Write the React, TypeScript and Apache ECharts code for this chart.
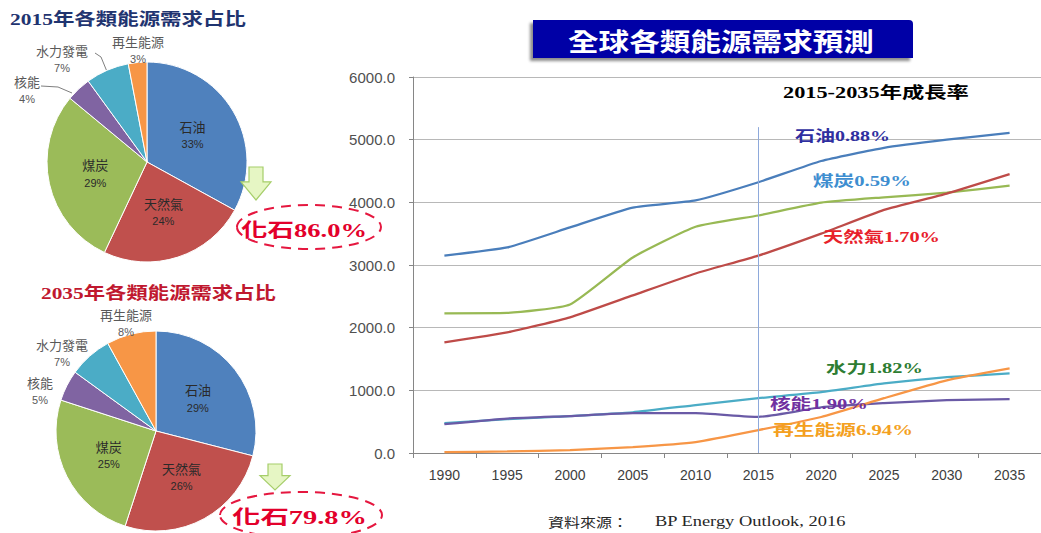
import React, { useEffect, useRef } from 'react';
import * as echarts from 'echarts';

// ---------- data ----------
const years = ['1990', '1995', '2000', '2005', '2010', '2015', '2020', '2025', '2030', '2035'];
const oil = [3150, 3280, 3600, 3915, 4030, 4320, 4660, 4870, 5000, 5110];
const coal = [2230, 2235, 2370, 3120, 3610, 3790, 3995, 4080, 4155, 4265];
const gas = [1765, 1925, 2165, 2515, 2865, 3150, 3500, 3880, 4140, 4450];
const hydro = [475, 540, 590, 650, 765, 875, 970, 1110, 1210, 1270];
const nuclear = [460, 550, 590, 635, 635, 575, 730, 795, 845, 860];
const renewables = [15, 25, 45, 95, 175, 365, 575, 875, 1160, 1350];

const pieNames = ['石油', '天然氣', '煤炭', '核能', '水力發電', '再生能源'];
const share2015 = [33, 24, 29, 4, 7, 3];
const share2035 = [29, 26, 25, 5, 7, 8];

const growthNames = ['石油', '煤炭', '天然氣', '水力', '核能', '再生能源'];
const growthRates = ['0.88%', '0.59%', '1.70%', '1.82%', '1.90%', '6.94%'];

const fossil2015 = '86.0%';
const fossil2035 = '79.8%';

const yMin = 0;
const yMax = 6000;
const yStep = 1000;

// ---------- styles / layout ----------
const pieColors = ['#4F81BD', '#C0504D', '#9BBB59', '#8064A2', '#4BACC6', '#F79646'];
const lineColors = { oil: '#4A7EBB', coal: '#98B954', gas: '#BE4B48', hydro: '#4BACC6', nuclear: '#6A5AA6', ren: '#F79646' };
const growthColors = ['#2F2FA0', '#3E8ED0', '#E8202A', '#2E7D32', '#7030A0', '#F4A020'];
const growthLayout = [
  [795, 136, 95],
  [813, 181, 98],
  [823, 237, 117],
  [826, 368, 97],
  [770, 404, 98],
  [773, 430, 140],
];

const SERIF_CJK = "'Liberation Serif', 'Noto Sans CJK TC'";
const SANS_CJK = "'Noto Sans CJK TC', 'Liberation Sans'";

let measureCtx: CanvasRenderingContext2D | null = null;
function measure(text: string, font: string): number {
  if (!measureCtx) measureCtx = document.createElement('canvas').getContext('2d');
  if (!measureCtx) return text.length * 10;
  measureCtx.font = font;
  return measureCtx.measureText(text).width || 1;
}

function fitText(text: string, x: number, y: number, width: number, size: number, family: string, weight: string, fill: string) {
  const w = measure(text, `${weight} ${size}px ${family}`);
  return {
    type: 'text',
    x,
    y,
    z: 100,
    scaleX: width / w,
    style: { text, fontSize: size, fontFamily: family, fontWeight: weight, fill, align: 'left', verticalAlign: 'middle' },
  };
}

function pieSeries(values: number[], center: number[], outside: Record<number, number[]>, lines: Record<number, number[][]>) {
  return {
    type: 'pie',
    center,
    radius: 100,
    startAngle: 90,
    clockwise: true,
    avoidLabelOverlap: false,
    itemStyle: { borderColor: '#ffffff', borderWidth: 1 },
    label: {
      formatter: '{n|{b}}\n{p|{c}%}',
      rich: {
        n: { fontSize: 13, lineHeight: 18, fontFamily: SANS_CJK },
        p: { fontSize: 11, lineHeight: 18, fontFamily: "'Liberation Sans'" },
      },
    },
    labelLine: { show: false, length: 5, length2: 5, lineStyle: { color: '#7F7F7F', width: 1 } },
    data: values.map((v, i) => ({
      name: pieNames[i],
      value: v,
      itemStyle: { color: pieColors[i] },
      label: { position: i < 3 ? 'inside' : 'outside', color: i < 3 ? '#2A2A2A' : '#595959' },
      labelLine: { show: !!lines[i] },
    })),
    labelLayout: (p: any) => {
      const pos = outside[p.dataIndex];
      if (!pos) return {};
      const r: any = { x: pos[0], y: pos[1], align: 'center', verticalAlign: 'middle' };
      if (lines[p.dataIndex]) r.labelLinePoints = lines[p.dataIndex];
      return r;
    },
  };
}

function lineSeries(name: string, data: number[], color: string, extra: any = {}) {
  return {
    type: 'line',
    name,
    data,
    smooth: 0.15,
    symbol: 'none',
    lineStyle: { color, width: 2.25 },
    itemStyle: { color },
    ...extra,
  };
}

export default function App() {
  const ref = useRef<HTMLDivElement>(null);

  useEffect(() => {
    if (!ref.current) return;
    const chart = echarts.init(ref.current, undefined, { renderer: 'svg' });

    const graphics: any[] = [];
    graphics.push(fitText('2015年各類能源需求占比', 10, 19, 236, 17, SERIF_CJK, 'bold', '#1F3470'));
    graphics.push(fitText('2035年各類能源需求占比', 41, 293, 235, 17, SERIF_CJK, 'bold', '#C0182F'));
    graphics.push({
      type: 'rect',
      z: 99,
      shape: { x: 533, y: 20, width: 380, height: 38, r: [0, 4, 0, 0] },
      style: { fill: '#0404A6', shadowBlur: 3, shadowOffsetX: -3, shadowOffsetY: 3, shadowColor: 'rgba(0,0,0,0.45)' },
    });
    graphics.push(fitText('全球各類能源需求預測', 568, 40, 306, 25, SANS_CJK, 'bold', '#FFFFFF'));
    graphics.push(fitText('2015-2035年成長率', 783, 93, 186, 16, SERIF_CJK, 'bold', '#000000'));
    growthNames.forEach((n, i) => {
      const [gx, gy, gw] = growthLayout[i];
      graphics.push(fitText(n + growthRates[i], gx, gy, gw, 15, SERIF_CJK, 'bold', growthColors[i]));
    });
    // fossil share annotations
    graphics.push(fitText('化石' + fossil2015, 241, 230, 126, 19, SERIF_CJK, 'bold', '#E3002B'));
    graphics.push(fitText('化石' + fossil2035, 232, 517, 135, 19, SERIF_CJK, 'bold', '#E3002B'));
    graphics.push({
      type: 'ellipse', z: 100,
      shape: { cx: 309, cy: 227, rx: 72, ry: 22 },
      style: { fill: 'none', stroke: '#E5173F', lineWidth: 2, lineDash: [10, 7] },
    });
    graphics.push({
      type: 'ellipse', z: 100,
      shape: { cx: 301, cy: 515, rx: 81, ry: 23 },
      style: { fill: 'none', stroke: '#E5173F', lineWidth: 2, lineDash: [10, 7] },
    });
    const arrow = (cx: number, top: number, h: number) => ({
      type: 'polygon', z: 100,
      shape: {
        points: [
          [cx - 7, top], [cx + 7, top], [cx + 7, top + h * 0.45], [cx + 15, top + h * 0.45],
          [cx, top + h], [cx - 15, top + h * 0.45], [cx - 7, top + h * 0.45],
        ],
      },
      style: { fill: '#E6F6C4', stroke: '#A6CE6A', lineWidth: 1.2 },
    });
    graphics.push(arrow(256, 167, 33));
    graphics.push(arrow(275, 464, 26));
    graphics.push(fitText('資料來源：', 548, 521, 80, 13, SANS_CJK, 'normal', '#262626'));
    graphics.push(fitText('BP Energy Outlook, 2016', 655, 521, 191, 14, "'Liberation Serif'", 'normal', '#262626'));

    const option: any = {
      animation: false,
      backgroundColor: '#ffffff',
      grid: { left: 413, right: -5, top: 77, bottom: 80, containLabel: false },
      xAxis: {
        type: 'category',
        data: years,
        boundaryGap: true,
        axisLine: { lineStyle: { color: '#868686', width: 1 } },
        axisTick: { show: true, alignWithLabel: false, length: 5, lineStyle: { color: '#868686' } },
        axisLabel: { color: '#404040', fontSize: 14, fontFamily: "'Liberation Sans'", margin: 15 },
        splitLine: { show: false },
      },
      yAxis: {
        type: 'value',
        min: yMin,
        max: yMax,
        interval: yStep,
        axisLine: { show: true, lineStyle: { color: '#868686', width: 1 } },
        axisTick: { show: true, length: 4, lineStyle: { color: '#868686' } },
        axisLabel: { color: '#505050', fontSize: 15, fontFamily: "'Liberation Sans'", margin: 18, formatter: (v: number) => v.toFixed(1) },
        splitLine: { lineStyle: { color: '#B8B8B8', width: 1 } },
      },
      series: [
        lineSeries('石油', oil, lineColors.oil, {
          markLine: {
            silent: true,
            symbol: 'none',
            label: { show: false },
            lineStyle: { color: '#8EA9DB', width: 1, type: 'solid' },
            data: [[{ coord: ['2015', 0] }, { coord: ['2015', 5200] }]],
          },
        }),
        lineSeries('煤炭', coal, lineColors.coal),
        lineSeries('天然氣', gas, lineColors.gas),
        lineSeries('水力', hydro, lineColors.hydro),
        lineSeries('核能', nuclear, lineColors.nuclear),
        lineSeries('再生能源', renewables, lineColors.ren),
        pieSeries(share2015, [147, 162],
          { 3: [27, 90], 4: [62, 59], 5: [138, 50] },
          { 4: [[108, 74], [101, 57], [95, 53]], 3: [[72, 93], [58, 87], [41, 86]] }),
        pieSeries(share2035, [156, 431],
          { 3: [40, 391], 4: [62, 353], 5: [126, 323] },
          {}),
      ],
      graphic: { elements: graphics },
    };

    chart.setOption(option);
    return () => chart.dispose();
  }, []);

  return (
    <div
      ref={ref}
      style={{ position: 'fixed', left: 0, top: 0, width: 1041, height: 533, background: '#fff' }}
    />
  );
}
